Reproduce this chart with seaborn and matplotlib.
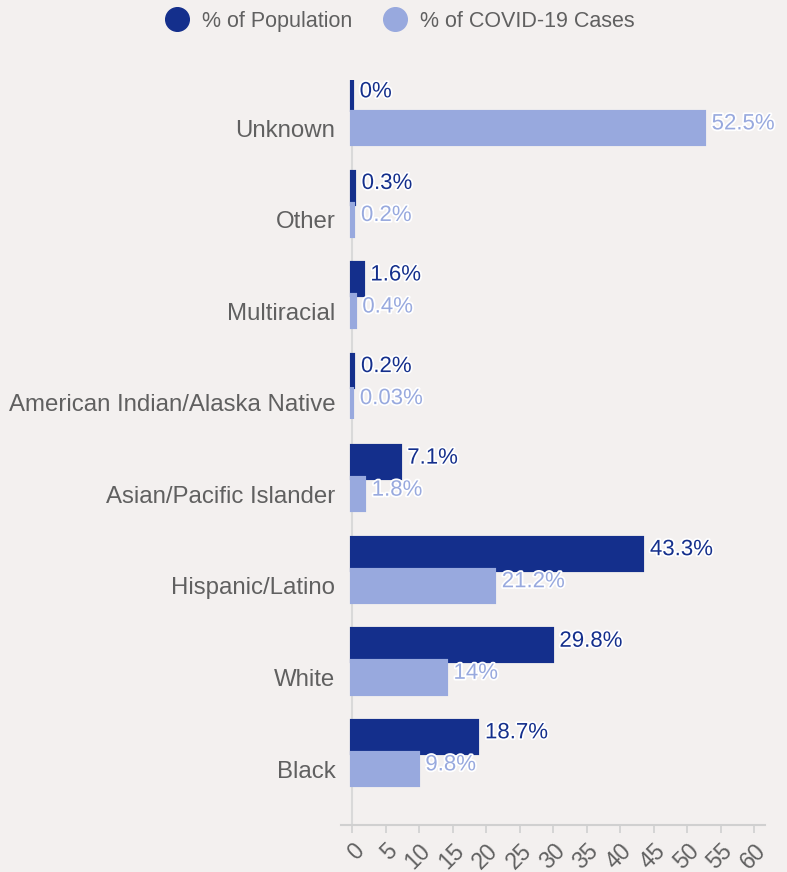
import matplotlib
matplotlib.use("Agg")
import matplotlib.pyplot as plt
import matplotlib.patheffects as pe
from matplotlib.lines import Line2D
import seaborn as sns
import pandas as pd

categories = ["Unknown", "Other", "Multiracial", "American Indian/Alaska Native",
              "Asian/Pacific Islander", "Hispanic/Latino", "White", "Black"]
pop_pct = [0, 0.3, 1.6, 0.2, 7.1, 43.3, 29.8, 18.7]
case_pct = [52.5, 0.2, 0.4, 0.03, 1.8, 21.2, 14, 9.8]
series = ["% of Population", "% of COVID-19 Cases"]
x_ticks = list(range(0, 61, 5))

NAVY = "#142f8c"
LIGHT = "#98a9de"
BG = "#f3f0ef"
TXT = "#606060"
GRID = "#d0d0d0"

df = pd.DataFrame({
    "Category": categories * 2,
    "Value": pop_pct + case_pct,
    "Series": [series[0]] * len(categories) + [series[1]] * len(categories),
})

sns.set_theme(style="white")
plt.rcParams["font.family"] = ["Liberation Sans", "DejaVu Sans"]

fig = plt.figure(figsize=(7.87, 8.72), dpi=100, facecolor=BG)
ax = fig.add_axes([341 / 787, 1 - 825 / 872, (765 - 341) / 787, (825 - 80) / 872])
ax.set_facecolor(BG)

sns.barplot(data=df, y="Category", x="Value", hue="Series", order=categories,
            hue_order=series, palette=[NAVY, LIGHT], orient="h", width=0.7,
            dodge=True, legend=False, ax=ax, linewidth=3.0, saturation=1)
for cont, col in zip(ax.containers, [NAVY, LIGHT]):
    for p in cont:
        p.set_edgecolor(col)

ax.set_xlim(-1.64, 61.6)
ax.set_ylim(7.786, -0.35)
ax.axvline(0, color="#d9d9d9", lw=1.5, zorder=0)

# value labels
for cont, vals, col in zip(ax.containers, [pop_pct, case_pct], [NAVY, LIGHT]):
    labels = [f"{v:g}%" for v in vals]
    texts = ax.bar_label(cont, labels=labels, padding=5.5, color=col, fontsize=16)
    for t in texts:
        t.set_path_effects([pe.withStroke(linewidth=2.5, foreground="white")])
        x, y = t.xyann
        t.xyann = (x, y + 3)

# y tick labels at the centre of the cases bar
ax.set_yticks([i + 0.175 for i in range(len(categories))])
ax.set_yticklabels(categories)
ax.tick_params(axis="y", length=0, pad=4, labelsize=17.3, labelcolor=TXT)
ax.set_yticks([i - 0.24 for i in range(len(categories))], minor=True)
ax.tick_params(axis="y", which="minor", length=7.5, width=1.2, color=GRID, direction="in")

ax.set_xticks(x_ticks)
ax.set_xticklabels([str(v) for v in x_ticks], rotation=45, ha="right",
                   rotation_mode="anchor")
ax.tick_params(axis="x", length=6, width=1.2, color=GRID, labelsize=16.5,
               labelcolor=TXT, pad=4, bottom=True)

ax.set_xlabel("")
ax.set_ylabel("")
for s in ["top", "right", "left"]:
    ax.spines[s].set_visible(False)
ax.spines["bottom"].set_color(GRID)
ax.spines["bottom"].set_linewidth(1.5)

handles = [Line2D([], [], marker="o", linestyle="", markersize=17, color=c) for c in [NAVY, LIGHT]]
fig.legend(handles, series, loc="upper center", bbox_to_anchor=(0.502, 1.01), ncol=2,
           frameon=False, fontsize=15.5, labelcolor=TXT, handletextpad=0.15,
           columnspacing=1.0)

fig.savefig("out.png", dpi=100, facecolor=BG)
